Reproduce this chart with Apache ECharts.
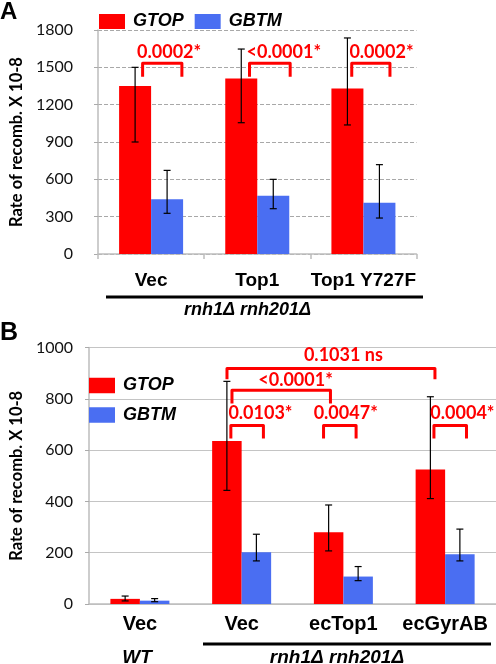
<!DOCTYPE html>
<html><head><meta charset="utf-8">
<script src="https://cdn.jsdelivr.net/npm/echarts@6/dist/echarts.min.js"></script>
<style>html,body{margin:0;padding:0;background:#fff}#c{width:496px;height:664px}</style>
</head><body><div id="c"></div>
<script>
// ---- Panel A data ----
const catsA = ['Vec', 'Top1', 'Top1 Y727F'];
const gtopA = [1350, 1410, 1330];
const gtopLoA = [900, 1055, 1037];
const gtopHiA = [1500, 1647, 1736];
const gbtmA = [439, 469, 412];
const gbtmLoA = [327, 364, 289];
const gbtmHiA = [672, 600, 718];
const yTicksA = [0, 300, 600, 900, 1200, 1500, 1800];
// brackets: [fromCat, fromOff, toCat, toOff, topY, legY, textCat, textOff, textY]
const bracketsA = [
  [0, -0.08, 0, 0.29, 1532, 1425, 0, 0.17, 1623],
  [1, -0.073, 1, 0.31, 1532, 1425, 1, 0.25, 1623],
  [2, -0.11, 2, 0.25, 1532, 1425, 2, 0.17, 1623]
];
const bracketLabelsA = ['0.0002*', '<0.0001*', '0.0002*'];

// ---- Panel B data ----
const catsB = ['Vec', 'Vec', 'ecTop1', 'ecGyrAB'];
const gtopB = [20, 635, 280, 524];
const gtopLoB = [12, 443, 207, 411];
const gtopHiB = [31, 868, 386, 808];
const gbtmB = [13, 202, 107, 194];
const gbtmLoB = [9, 168, 91, 168];
const gbtmHiB = [21, 272, 146, 292];
const yTicksB = [0, 200, 400, 600, 800, 1000];
const bracketsB = [
  [1, -0.106, 1, 0.214, 696, 645, 1, 0.185, 743],
  [2, -0.195, 2, 0.125, 696, 645, 2, 0.023, 743],
  [3, -0.11, 3, 0.21, 696, 645, 3, 0.17, 743],
  [1, -0.095, 2, -0.127, 833, 782, 1, 0.53, 872],
  [1, -0.144, 3, -0.10, 918, 876, 2, 0.0, 970]
];
const bracketLabelsB = ['0.0103*', '0.0047*', '0.0004*', '<0.0001*', '0.1031 ns'];

const RED = '#ff0000', BLUE = '#4a6ef2';
const BW_A = 32, BW_B = 29.5;
const SANS = '"Liberation Sans", Arial, sans-serif';
const CAL = 'Lato, "Open Sans", sans-serif';

function errData(lo, hi) { return lo.map((v, i) => [i, v, hi[i]]); }
function errRender(sign, bw) {
  return function (params, api) {
    const c = api.value(0);
    const lo = api.coord([c, api.value(1)]);
    const hi = api.coord([c, api.value(2)]);
    const x = lo[0] + sign * bw / 2;
    const cap = 3.5;
    const st = { stroke: '#000', lineWidth: 1.2 };
    return { type: 'group', children: [
      { type: 'line', shape: { x1: x, y1: lo[1], x2: x, y2: hi[1] }, style: st },
      { type: 'line', shape: { x1: x - cap, y1: lo[1], x2: x + cap, y2: lo[1] }, style: st },
      { type: 'line', shape: { x1: x - cap, y1: hi[1], x2: x + cap, y2: hi[1] }, style: st }
    ]};
  };
}
function bracketRender(labels) {
  return function (params, api) {
    const band = api.size([1, 0])[0];
    const px = (cat, off, v) => { const p = api.coord([cat, v]); return [p[0] + off * band, p[1]]; };
    const a = px(api.value(0), api.value(1), api.value(5));
    const b = px(api.value(0), api.value(1), api.value(4));
    const c = px(api.value(2), api.value(3), api.value(4));
    const d = px(api.value(2), api.value(3), api.value(5));
    const t = px(api.value(6), api.value(7), api.value(8));
    return { type: 'group', children: [
      { type: 'polyline', shape: { points: [a, b, c, d] },
        style: { stroke: RED, lineWidth: 3, fill: null, lineJoin: 'round' } },
      { type: 'text', x: t[0], y: t[1],
        style: { text: labels[params.dataIndex], fill: RED, font: 'bold 18px ' + CAL,
                 align: 'center', verticalAlign: 'middle' } }
    ]};
  };
}
const plain = v => String(v);

const chart = echarts.init(document.getElementById('c'));
chart.setOption({
  animation: false,
  backgroundColor: '#fff',
  grid: [
    { left: 86, right: 79.5, top: 30, bottom: 410 },
    { left: 83, right: 0, top: 347.5, bottom: 60 }
  ],
  legend: [
    { data: ['GTOP', 'GBTM'], left: 99, top: 12.5, padding: 0, itemWidth: 26, itemHeight: 15, itemGap: 11,
      icon: 'rect', textStyle: { fontSize: 18, fontStyle: 'italic', fontWeight: 'bold', fontFamily: SANS, color: '#000', padding: [0, 0, 0, 3] } },
    { data: ['GTOP', 'GBTM'], orient: 'vertical', left: 89, top: 376.5, padding: 0, itemWidth: 26, itemHeight: 15.5, itemGap: 11.5,
      icon: 'rect', textStyle: { fontSize: 18, fontStyle: 'italic', fontWeight: 'bold', fontFamily: SANS, color: '#000', padding: [0, 0, 0, 3] } }
  ],
  xAxis: [
    { type: 'category', gridIndex: 0, data: catsA,
      axisLine: { lineStyle: { color: '#bdbdbd', width: 1.5 } },
      axisTick: { show: true, length: 5, lineStyle: { color: '#bdbdbd', width: 1.5 } },
      axisLabel: { margin: 17, color: '#000', fontSize: 19, fontWeight: 'bold', fontFamily: SANS, interval: 0 } },
    { type: 'category', gridIndex: 1, data: catsB,
      axisLine: { lineStyle: { color: '#bdbdbd', width: 1.5 } },
      axisTick: { show: false },
      axisLabel: { margin: 10, color: '#000', fontSize: 20, fontWeight: 'bold', fontFamily: SANS, interval: 0 } }
  ],
  yAxis: [
    { type: 'value', gridIndex: 0, min: yTicksA[0], max: yTicksA[yTicksA.length - 1], interval: yTicksA[1] - yTicksA[0],
      name: 'Rate of recomb. X 10-8', nameLocation: 'middle', nameGap: 66,
      nameTextStyle: { fontSize: 16.5, fontWeight: 'bold', fontFamily: CAL, color: '#000' },
      axisLine: { show: true, lineStyle: { color: '#bdbdbd', width: 1.5 } },
      axisTick: { show: true, length: 5, lineStyle: { color: '#aaa', type: 'dashed' } },
      axisLabel: { margin: 25, fontSize: 16, fontFamily: CAL, color: '#111', formatter: plain },
      splitLine: { show: true, lineStyle: { color: '#a8a8a8', type: [4, 2] } } },
    { type: 'value', gridIndex: 1, min: yTicksB[0], max: yTicksB[yTicksB.length - 1], interval: yTicksB[1] - yTicksB[0],
      name: 'Rate of recomb. X 10-8', nameLocation: 'middle', nameGap: 62,
      nameTextStyle: { fontSize: 16.5, fontWeight: 'bold', fontFamily: CAL, color: '#000' },
      axisLine: { show: true, lineStyle: { color: '#bdbdbd', width: 1.5 } },
      axisTick: { show: true, length: 4, lineStyle: { color: '#aaa' } },
      axisLabel: { margin: 16, fontSize: 16, fontFamily: CAL, color: '#111', formatter: plain },
      splitLine: { show: true, lineStyle: { color: '#c4c4c4', width: 1.2 } } }
  ],
  series: [
    { name: 'GTOP', type: 'bar', xAxisIndex: 0, yAxisIndex: 0, data: gtopA, barWidth: BW_A, barGap: '0%', itemStyle: { color: RED } },
    { name: 'GBTM', type: 'bar', xAxisIndex: 0, yAxisIndex: 0, data: gbtmA, barWidth: BW_A, barGap: '0%', itemStyle: { color: BLUE } },
    { name: 'GTOP', type: 'bar', xAxisIndex: 1, yAxisIndex: 1, data: gtopB, barWidth: BW_B, barGap: '0%', itemStyle: { color: RED } },
    { name: 'GBTM', type: 'bar', xAxisIndex: 1, yAxisIndex: 1, data: gbtmB, barWidth: BW_B, barGap: '0%', itemStyle: { color: BLUE } },
    { type: 'custom', xAxisIndex: 0, yAxisIndex: 0, z: 5, data: errData(gtopLoA, gtopHiA), renderItem: errRender(-1, BW_A), encode: { x: 0, y: [1, 2] } },
    { type: 'custom', xAxisIndex: 0, yAxisIndex: 0, z: 5, data: errData(gbtmLoA, gbtmHiA), renderItem: errRender(1, BW_A), encode: { x: 0, y: [1, 2] } },
    { type: 'custom', xAxisIndex: 1, yAxisIndex: 1, z: 5, data: errData(gtopLoB, gtopHiB), renderItem: errRender(-1, BW_B), encode: { x: 0, y: [1, 2] } },
    { type: 'custom', xAxisIndex: 1, yAxisIndex: 1, z: 5, data: errData(gbtmLoB, gbtmHiB), renderItem: errRender(1, BW_B), encode: { x: 0, y: [1, 2] } },
    { type: 'custom', xAxisIndex: 0, yAxisIndex: 0, z: 6, clip: false, data: bracketsA, renderItem: bracketRender(bracketLabelsA), encode: { x: 0, y: 4 } },
    { type: 'custom', xAxisIndex: 1, yAxisIndex: 1, z: 6, clip: false, data: bracketsB, renderItem: bracketRender(bracketLabelsB), encode: { x: 0, y: 4 } }
  ],
  graphic: [
    { type: 'text', left: 0, top: 0, style: { text: 'A', font: 'bold 24px ' + SANS, fill: '#000' } },
    { type: 'text', left: 0, top: 321, style: { text: 'B', font: 'bold 25px ' + SANS, fill: '#000' } },
    { type: 'rect', shape: { x: 106, y: 295.5, width: 317, height: 3 }, style: { fill: '#000' } },
    { type: 'text', x: 247.5, y: 310, style: { text: 'rnh1Δ rnh201Δ', font: 'italic bold 18px ' + SANS, fill: '#000', align: 'center', verticalAlign: 'middle' } },
    { type: 'rect', shape: { x: 203, y: 642.5, width: 288, height: 3 }, style: { fill: '#000' } },
    { type: 'text', x: 337, y: 658, style: { text: 'rnh1Δ rnh201Δ', font: 'italic bold 19px ' + SANS, fill: '#000', align: 'center', verticalAlign: 'middle' } },
    { type: 'text', x: 137, y: 658, style: { text: 'WT', font: 'italic bold 19px ' + SANS, fill: '#000', align: 'center', verticalAlign: 'middle' } }
  ]
});
</script></body></html>
